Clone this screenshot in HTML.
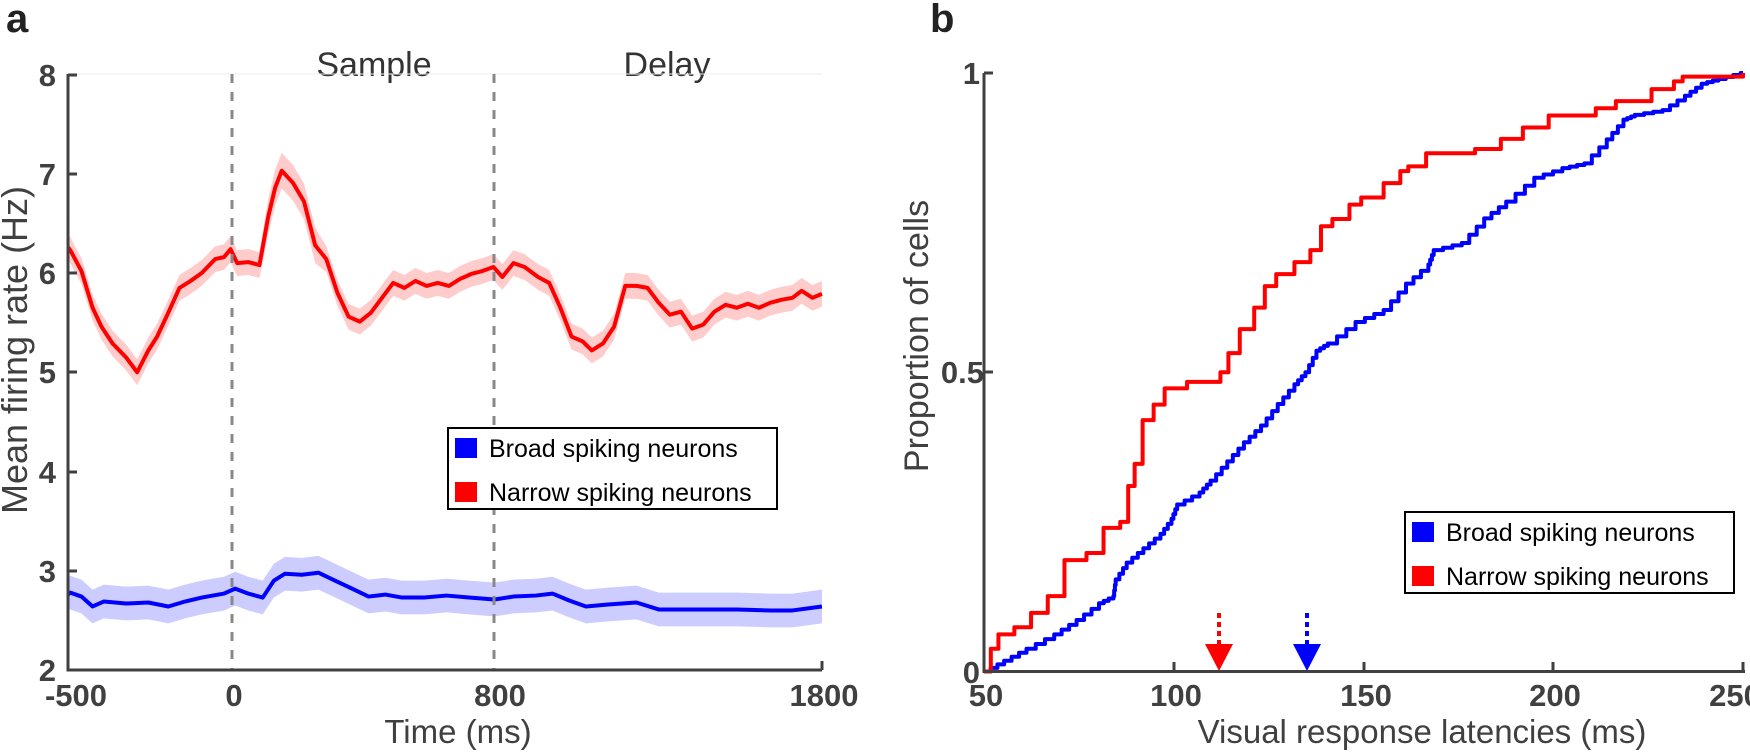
<!DOCTYPE html>
<html><head><meta charset="utf-8">
<style>
html,body{margin:0;padding:0;background:#fff;}
svg{display:block;font-family:"Liberation Sans",Arial,sans-serif;}
.tk{font-weight:bold;font-size:31px;fill:#404040;}
.lab{font-size:33px;fill:#404040;}
.leg{font-size:25px;fill:#000;}
</style></head>
<body>
<svg id="s" width="1750" height="753" viewBox="0 0 1750 753" xmlns="http://www.w3.org/2000/svg">
<text x="6" y="32" font-size="40" font-weight="bold" fill="#222">a</text>
<text x="930" y="32" font-size="40" font-weight="bold" fill="#222">b</text>
<text x="374" y="76" font-size="34" fill="#333" text-anchor="middle">Sample</text>
<text x="667" y="76" font-size="34" fill="#333" text-anchor="middle">Delay</text>
<g id="ga"></g>
<g id="gb"></g>
<line x1="68" y1="74" x2="822" y2="74" stroke="#eee" stroke-width="1"/>
<line x1="232" y1="74" x2="232" y2="670" stroke="#888" stroke-width="3" stroke-dasharray="9,9"/>
<line x1="494" y1="74" x2="494" y2="670" stroke="#888" stroke-width="3" stroke-dasharray="9,9"/>
<path d="M68,74 V670 H822" fill="none" stroke="#404040" stroke-width="3"/>
<g stroke="#404040" stroke-width="3">
<line x1="68" y1="75" x2="77" y2="75"/><line x1="68" y1="174" x2="77" y2="174"/><line x1="68" y1="273" x2="77" y2="273"/><line x1="68" y1="372" x2="77" y2="372"/><line x1="68" y1="472" x2="77" y2="472"/><line x1="68" y1="571" x2="77" y2="571"/>
<line x1="822" y1="670" x2="822" y2="661"/>
</g>
<g class="tk" text-anchor="end">
<text x="56" y="86">8</text><text x="56" y="185">7</text><text x="56" y="284">6</text><text x="56" y="383">5</text><text x="56" y="483">4</text><text x="56" y="582">3</text><text x="56" y="681">2</text>
</g>
<g class="tk" text-anchor="middle">
<text x="76" y="706">-500</text><text x="234" y="706">0</text><text x="500" y="706">800</text><text x="824" y="706">1800</text>
</g>
<text class="lab" x="458" y="743" text-anchor="middle">Time (ms)</text>
<text class="lab" font-size="36" style="font-size:36px" transform="translate(27,350) rotate(-90)" text-anchor="middle">Mean firing rate (Hz)</text>
<rect x="448" y="428" width="329" height="81" fill="#fff" stroke="#000" stroke-width="2"/>
<rect x="455" y="438" width="22" height="20" fill="#0000ff"/>
<rect x="455" y="482" width="22" height="20" fill="#ff0000"/>
<text class="leg" x="489" y="457">Broad spiking neurons</text>
<text class="leg" x="489" y="501">Narrow spiking neurons</text>
<path d="M984,73 V671.5 H1745" fill="none" stroke="#404040" stroke-width="3"/>
<g stroke="#404040" stroke-width="3">
<line x1="984" y1="73" x2="993" y2="73"/><line x1="984" y1="372" x2="993" y2="372"/>
<line x1="1174" y1="671" x2="1174" y2="662"/><line x1="1364" y1="671" x2="1364" y2="662"/><line x1="1553" y1="671" x2="1553" y2="662"/><line x1="1743" y1="671" x2="1743" y2="662"/>
</g>
<g class="tk" text-anchor="end">
<text x="980" y="84">1</text><text x="984" y="383">0.5</text><text x="980" y="683">0</text>
</g>
<g class="tk" text-anchor="middle">
<text x="986" y="706">50</text><text x="1176" y="706">100</text><text x="1366" y="706">150</text><text x="1555" y="706">200</text><text x="1735" y="706">250</text>
</g>
<text class="lab" x="1422" y="743" text-anchor="middle">Visual response latencies (ms)</text>
<text class="lab" style="font-size:34px" transform="translate(928,336) rotate(-90)" text-anchor="middle">Proportion of cells</text>
<rect x="1405" y="512" width="329" height="81" fill="#fff" stroke="#000" stroke-width="2"/>
<rect x="1412" y="522" width="22" height="20" fill="#0000ff"/>
<rect x="1412" y="566" width="22" height="20" fill="#ff0000"/>
<text class="leg" x="1446" y="541">Broad spiking neurons</text>
<text class="leg" x="1446" y="585">Narrow spiking neurons</text>
<line x1="1219" y1="613" x2="1219" y2="644" stroke="#ff0000" stroke-width="4" stroke-dasharray="5,4"/>
<polygon points="1205,644 1233,644 1219,671" fill="#ff0000"/>
<line x1="1307" y1="613" x2="1307" y2="644" stroke="#0000ff" stroke-width="4" stroke-dasharray="5,4"/>
<polygon points="1293,644 1321,644 1307,671" fill="#0000ff"/>
</svg>
<script>
var NS="http://www.w3.org/2000/svg";
function X(t){return 68+(t+500)*0.3278;}
function Y(h){return 670-(h-2)*99.25;}
var red=[[-500,6.26],[-493,6.23],[-459,6.02],[-425,5.65],[-398,5.46],[-364,5.29],[-323,5.15],[-289,5.0],[-255,5.22],[-228,5.36],[-194,5.6],[-160,5.85],[-126,5.92],[-92,6.0],[-51,6.14],[-24,6.16],[-4,6.24],[16,6.1],[50,6.11],[84,6.08],[111,6.57],[132,6.86],[152,7.03],[186,6.91],[220,6.72],[254,6.28],[288,6.14],[322,5.8],[356,5.56],[390,5.51],[424,5.6],[458,5.75],[492,5.9],[526,5.85],[560,5.92],[594,5.87],[628,5.9],[662,5.87],[696,5.94],[730,5.99],[764,6.02],[798,6.06],[825,5.96],[859,6.1],[893,6.06],[934,5.96],[968,5.9],[1002,5.65],[1036,5.36],[1070,5.31],[1098,5.22],[1132,5.29],[1166,5.46],[1200,5.87],[1234,5.87],[1268,5.85],[1302,5.7],[1336,5.58],[1370,5.61],[1404,5.44],[1438,5.48],[1472,5.61],[1506,5.68],[1540,5.65],[1574,5.69],[1608,5.65],[1642,5.7],[1676,5.73],[1710,5.75],[1738,5.82],[1771,5.75],[1800,5.79]];
var blue=[[-500,2.76],[-493,2.78],[-459,2.74],[-425,2.64],[-391,2.69],[-323,2.67],[-255,2.68],[-194,2.64],[-143,2.69],[-92,2.73],[-24,2.77],[10,2.82],[50,2.77],[94,2.73],[128,2.9],[162,2.97],[213,2.96],[264,2.98],[315,2.9],[366,2.82],[417,2.74],[468,2.76],[519,2.73],[587,2.73],[655,2.75],[723,2.73],[801,2.71],[859,2.74],[927,2.75],[978,2.77],[1029,2.7],[1080,2.64],[1148,2.66],[1234,2.68],[1302,2.61],[1404,2.61],[1472,2.61],[1540,2.61],[1642,2.6],[1710,2.6],[1800,2.64]];
function band(d,w,col){var up=d.map(function(p){return X(p[0])+","+Y(p[1]+w(p[0]));});var dn=d.slice().reverse().map(function(p){return X(p[0])+","+Y(p[1]-w(p[0]));});var e=document.createElementNS(NS,"polygon");e.setAttribute("points",up.concat(dn).join(" "));e.setAttribute("fill",col);document.getElementById("ga").appendChild(e);}
function line(d,col,g,fx,fy){var e=document.createElementNS(NS,"polyline");e.setAttribute("points",d.map(function(p){return fx(p[0])+","+fy(p[1]);}).join(" "));e.setAttribute("fill","none");e.setAttribute("stroke",col);e.setAttribute("stroke-width","4");e.setAttribute("stroke-linejoin","round");document.getElementById(g).appendChild(e);}
band(red,function(t){return (t>100&&t<260)?0.18:0.13;},"#ffcccc");
band(blue,function(t){return 0.17;},"#ccccff");
line(red,"#ff0000","ga",X,Y);line(blue,"#0000ff","ga",X,Y);
function BX(m){return 984+(m-50)*3.795;}function BY(p){return 671.5-p*598.5;}
var rb=[[50,0],[51.8,0.038],[53.8,0.062],[58,0.074],[62.4,0.098],[66.8,0.126],[71.2,0.186],[77,0.198],[81.5,0.24],[85.9,0.25],[88,0.31],[89.7,0.347],[91.8,0.42],[94.7,0.446],[97.6,0.473],[103.5,0.484],[112.3,0.5],[114.4,0.532],[117.4,0.572],[121.2,0.608],[124,0.644],[127,0.664],[131.8,0.684],[136,0.704],[138.8,0.744],[141.8,0.756],[146.3,0.78],[149.4,0.792],[155.3,0.816],[159.7,0.836],[161.8,0.844],[166.5,0.866],[179.4,0.873],[186.2,0.89],[192,0.909],[198.8,0.929],[211.2,0.941],[216.5,0.953],[225.9,0.973],[231.8,0.986],[234.1,0.994],[249.4,0.994],[250,1]];
var bb=[[50,0],[55.3,0.018],[61.2,0.038],[68.5,0.062],[74.4,0.086],[80.3,0.114],[84.1,0.126],[84.7,0.154],[87.6,0.182],[92,0.206],[96.5,0.23],[99.4,0.255],[100.9,0.279],[106.8,0.299],[109.7,0.319],[114.1,0.351],[118.5,0.383],[123,0.411],[127.4,0.447],[131.8,0.48],[134.7,0.5],[137.6,0.536],[140.6,0.548],[147.9,0.584],[155.3,0.604],[161.2,0.648],[167.1,0.68],[168.5,0.704],[175.9,0.716],[181.8,0.757],[187.6,0.785],[195,0.825],[202.4,0.841],[208.2,0.849],[214.1,0.889],[218.5,0.922],[221.5,0.93],[228.8,0.938],[234.7,0.962],[239.1,0.982],[243.5,0.99],[249.4,1],[250,1]];
function stepify(d,n){var o=[d[0]];for(var i=1;i<d.length;i++){var a=d[i-1],b=d[i];for(var k=1;k<=n;k++){var x=a[0]+(b[0]-a[0])*k/n,y=a[1]+(b[1]-a[1])*k/n;o.push([x,o[o.length-1][1]]);o.push([x,y]);}}return o;}
line(stepify(bb,3),"#0000ff","gb",BX,BY);
line(stepify(rb,1),"#ff0000","gb",BX,BY);
</script>
</body></html>
